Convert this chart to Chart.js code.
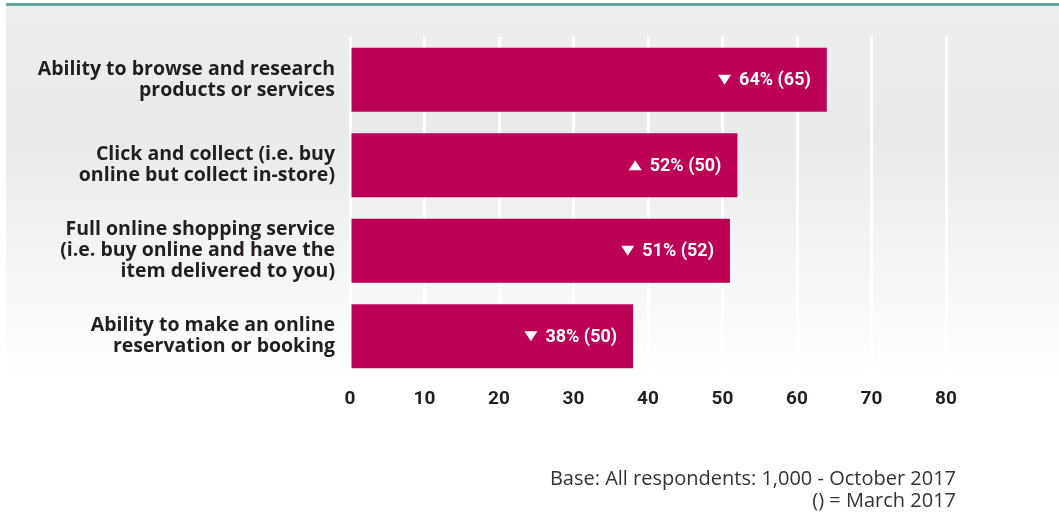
<!DOCTYPE html>
<html>
<head>
<meta charset="utf-8">
<script src="https://cdn.jsdelivr.net/npm/chart.js@4/dist/chart.umd.min.js"></script>
<style>
  html, body { margin: 0; padding: 0; background: #ffffff; }
  #chart { display: block; }
</style>
</head>
<body>
<canvas id="chart" width="1059" height="515"></canvas>
<script>
const categories = [
  ['Ability to browse and research', 'products or services'],
  ['Click and collect (i.e. buy', 'online but collect in-store)'],
  ['Full online shopping service', '(i.e. buy online and have the', 'item delivered to you)'],
  ['Ability to make an online', 'reservation or booking']
]
const october2017 = [64, 52, 51, 38]
const march2017 = [65, 50, 52, 50]
const xTicks = [0, 10, 20, 30, 40, 50, 60, 70, 80]
const footnote = ['Base: All respondents: 1,000 - October 2017', '() = March 2017']

const BAR_COLOR = '#bc0055'
const TEXT_COLOR = '#231f20'
const FONT = 'Roboto, "Noto Sans", sans-serif'
const LABEL_FONT = '"Open Sans", Roboto, sans-serif'

// grey panel fading to white, with the teal rule above it
const panelBackground = {
  id: 'panelBackground',
  beforeDraw(chart) {
    const { ctx, width, chartArea } = chart
    ctx.save()
    ctx.fillStyle = '#ffffff'
    ctx.fillRect(0, 0, width, chart.height)
    const top = 6
    const bottom = chartArea.bottom
    const grad = ctx.createLinearGradient(0, top, 0, bottom)
    grad.addColorStop(0, '#eeeeee')
    grad.addColorStop(0.35, '#e9eaea')
    grad.addColorStop(1, '#ffffff')
    ctx.fillStyle = grad
    ctx.fillRect(6, top, width - 6, bottom - top)
    ctx.fillStyle = '#5ea99c'
    ctx.fillRect(6, 3, width - 6, 3)
    ctx.restore()
  }
}

// value label with change arrow inside the end of each bar
const barLabels = {
  id: 'barLabels',
  afterDatasetsDraw(chart) {
    const { ctx } = chart
    const meta = chart.getDatasetMeta(0)
    ctx.save()
    ctx.font = 'bold 18px ' + FONT
    ctx.fillStyle = '#ffffff'
    ctx.textAlign = 'right'
    ctx.textBaseline = 'middle'
    meta.data.forEach((bar, i) => {
      const text = october2017[i] + '% (' + march2017[i] + ')'
      const right = bar.x - 16
      const y = bar.y
      ctx.fillText(text, right, y + 1)
      const w = ctx.measureText(text).width
      const tx = right - w - 8
      const up = october2017[i] > march2017[i]
      ctx.beginPath()
      if (up) {
        ctx.moveTo(tx - 13, y + 5)
        ctx.lineTo(tx, y + 5)
        ctx.lineTo(tx - 6.5, y - 5)
      } else {
        ctx.moveTo(tx - 13, y - 5)
        ctx.lineTo(tx, y - 5)
        ctx.lineTo(tx - 6.5, y + 5)
      }
      ctx.closePath()
      ctx.fill()
    })
    ctx.restore()
  }
}

const footnoteText = {
  id: 'footnoteText',
  afterDraw(chart) {
    const { ctx } = chart
    ctx.save()
    ctx.font = '20px ' + LABEL_FONT
    ctx.fillStyle = '#333333'
    ctx.textAlign = 'right'
    ctx.textBaseline = 'alphabetic'
    ctx.fillText(footnote[0], 956, 485)
    ctx.fillText(footnote[1], 956, 507)
    ctx.restore()
  }
}

new Chart(document.getElementById('chart'), {
  type: 'bar',
  data: {
    labels: categories,
    datasets: [{
      data: october2017,
      backgroundColor: BAR_COLOR,
      barPercentage: 0.75,
      categoryPercentage: 1
    }]
  },
  options: {
    indexAxis: 'y',
    responsive: false,
    animation: false,
    devicePixelRatio: 1,
    layout: { padding: { top: 37, right: 113, left: 0, bottom: 0 } },
    plugins: {
      legend: { display: false },
      tooltip: { enabled: false }
    },
    scales: {
      x: {
        min: 0,
        max: 80,
        afterBuildTicks(scale) {
          scale.ticks = xTicks.map(v => ({ value: v }))
        },
        afterFit(scale) { scale.height = 136 },
        grid: { color: '#ffffff', lineWidth: 3, drawTicks: false },
        border: { display: false },
        ticks: {
          color: TEXT_COLOR,
          padding: 9,
          font: { family: FONT, size: 19, weight: 'bold' }
        }
      },
      y: {
        afterFit(scale) { scale.width = 350 },
        grid: { display: false },
        border: { display: false },
        ticks: {
          color: TEXT_COLOR,
          padding: 7,
          font: { family: LABEL_FONT, size: 19.5, weight: 'bold', lineHeight: 1.07 }
        }
      }
    }
  },
  plugins: [panelBackground, barLabels, footnoteText]
})
</script>
</body>
</html>
